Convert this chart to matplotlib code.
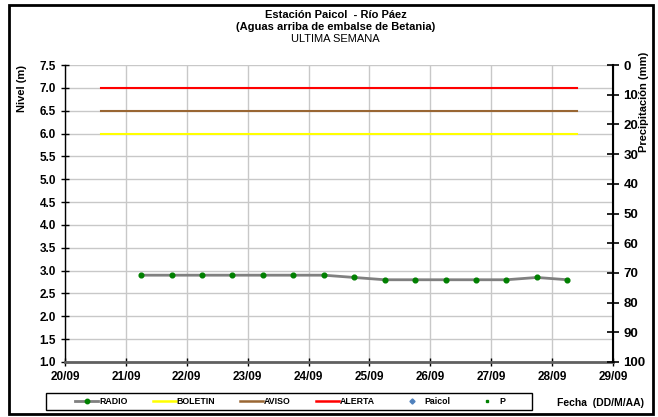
import numpy as np
import matplotlib
matplotlib.use("Agg")
import matplotlib.pyplot as plt
import matplotlib.dates as mdates
from matplotlib.lines import Line2D
from matplotlib.patches import Rectangle

plt.rcParams['font.family'] = ['Liberation Sans', 'DejaVu Sans']

# datos
fechas_radio = ["2008-09-21 06:00", "2008-09-21 18:00", "2008-09-22 06:00", "2008-09-22 18:00",
                "2008-09-23 06:00", "2008-09-23 18:00", "2008-09-24 06:00", "2008-09-24 18:00",
                "2008-09-25 06:00", "2008-09-25 18:00", "2008-09-26 06:00", "2008-09-26 18:00",
                "2008-09-27 06:00", "2008-09-27 18:00", "2008-09-28 06:00"]
nivel_radio = [2.9, 2.9, 2.9, 2.9, 2.9, 2.9, 2.9, 2.85, 2.8, 2.8, 2.8, 2.8, 2.8, 2.85, 2.8]

umbral_fechas = ["2008-09-20 14:00", "2008-09-28 10:00"]
boletin = 6.0
aviso = 6.5
alerta = 7.0

dias = ["2008-09-20", "2008-09-21", "2008-09-22", "2008-09-23", "2008-09-24",
        "2008-09-25", "2008-09-26", "2008-09-27", "2008-09-28", "2008-09-29"]
etiquetas_x = ["20/09", "21/09", "22/09", "23/09", "24/09", "25/09", "26/09", "27/09", "28/09", "29/09"]
ticks_nivel = [1.0, 1.5, 2.0, 2.5, 3.0, 3.5, 4.0, 4.5, 5.0, 5.5, 6.0, 6.5, 7.0, 7.5]
ticks_precip = [0, 10, 20, 30, 40, 50, 60, 70, 80, 90, 100]

x_radio = mdates.datestr2num(fechas_radio)
x_umb = mdates.datestr2num(umbral_fechas)
x_dias = mdates.datestr2num(dias)

fig = plt.figure(figsize=(6.58, 4.17), dpi=100)
ax = fig.add_axes([0.0988, 0.1319, 0.8328, 0.7122])

ax.plot(x_umb, [boletin, boletin], color='#ffff00', lw=1.5, zorder=3)
ax.plot(x_umb, [aviso, aviso], color='#996633', lw=1.5, zorder=3)
ax.plot(x_umb, [alerta, alerta], color='#ff0000', lw=1.5, zorder=3)
ax.plot(x_radio, nivel_radio, color='#808080', lw=2.0, marker='o', ms=3.4,
        mfc='#008000', mec='#008000', zorder=4)

ax.set_xlim(x_dias[0], x_dias[-1])
ax.set_ylim(1.0, 7.5)
ax.set_xticks(x_dias)
ax.set_xticklabels(etiquetas_x)
ax.set_yticks(ticks_nivel)
ax.set_yticklabels(["%.1f" % t for t in ticks_nivel])
ax.grid(True, color='#c8c8c8', lw=1)
ax.set_axisbelow(True)
ax.tick_params(direction='inout', length=6, width=1, labelsize=8.5, colors='black')
for lab in ax.get_xticklabels() + ax.get_yticklabels():
    lab.set_fontweight('bold')
ax.spines['top'].set_visible(False)
ax.spines['bottom'].set_color('#606060')
ax.spines['bottom'].set_linewidth(2)
ax.spines['left'].set_linewidth(1)

ax2 = ax.twinx()
ax2.set_ylim(100, 0)
ax2.set_yticks(ticks_precip)
ax2.set_yticklabels([str(t) for t in ticks_precip])
ax2.tick_params(direction='inout', length=8, width=1.2, labelsize=9.5)
for lab in ax2.get_yticklabels():
    lab.set_fontweight('bold')
ax2.spines['top'].set_visible(False)
ax2.spines['left'].set_visible(False)
ax2.spines['bottom'].set_visible(False)
ax2.spines['right'].set_linewidth(1.5)

fig.text(0.51, 0.977, "Estación Paicol  - Río Páez", ha='center', va='top', fontsize=8, fontweight='bold')
fig.text(0.51, 0.948, "(Aguas arriba de embalse de Betania)", ha='center', va='top', fontsize=8, fontweight='bold')
fig.text(0.51, 0.919, "ULTIMA SEMANA", ha='center', va='top', fontsize=8)
fig.text(0.033, 0.845, "Nivel (m)", rotation=90, ha='center', va='top', fontsize=8, fontweight='bold')
fig.text(0.979, 0.875, "Precipitación (mm)", rotation=90, ha='center', va='top', fontsize=8, fontweight='bold')
fig.text(0.913, 0.034, "Fecha  (DD/M/AA)", ha='center', va='center', fontsize=7.5, fontweight='bold')

handles = [
    Line2D([], [], color='#808080', lw=2.0, marker='o', ms=3.2, mfc='#008000', mec='#008000'),
    Line2D([], [], color='#ffff00', lw=1.8),
    Line2D([], [], color='#996633', lw=1.8),
    Line2D([], [], color='#ff0000', lw=1.8),
    Line2D([], [], color='#4f81bd', lw=0, marker='D', ms=2.6),
    Line2D([], [], color='#008000', lw=0, marker='s', ms=1.8),
]
leg = fig.legend(handles, ["RADIO", "BOLETIN", "AVISO", "ALERTA", "Paicol", "P"],
                 ncol=6, loc='center', bbox_to_anchor=(0.441, 0.037), fontsize=6.3,
                 frameon=False, handlelength=2.6, handletextpad=0.1, columnspacing=2.9)
for t in leg.get_texts():
    t.set_fontweight('bold')

# recuadro de la leyenda y marco de la figura
fig.patches.append(Rectangle((0.0699, 0.0168), 0.7386, 0.0408, transform=fig.transFigure,
                             fill=False, edgecolor='black', lw=1))
fig.patches.append(Rectangle((0.013, 0.008), 0.98, 0.98, transform=fig.transFigure,
                             fill=False, edgecolor='black', lw=2))

fig.savefig("out.png", dpi=100)
